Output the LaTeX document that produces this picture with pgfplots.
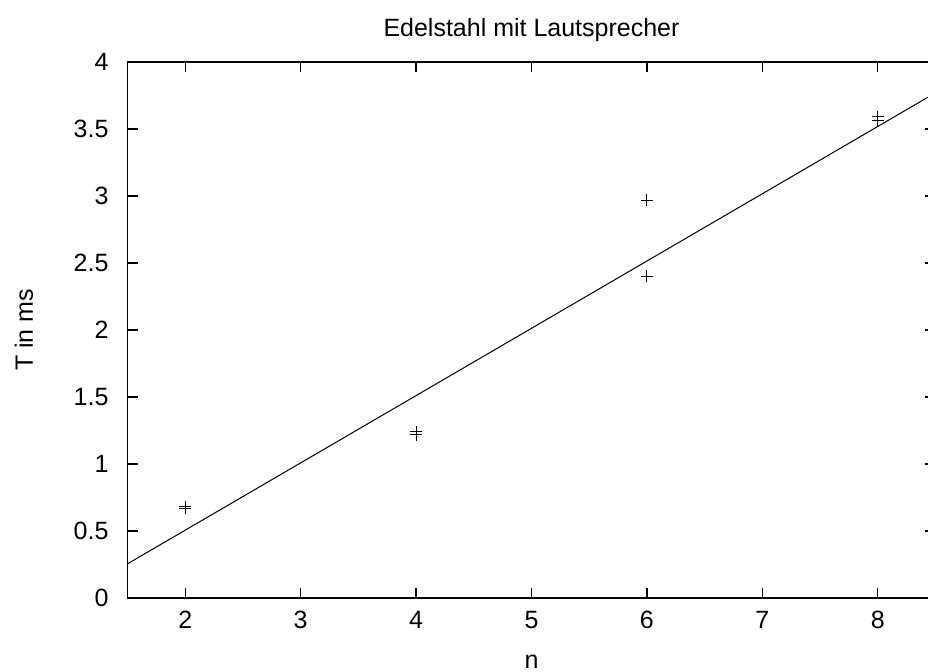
\documentclass[border=0pt]{standalone}
\usepackage{pgfplots}
\pgfplotsset{compat=1.18}
\usepackage{fontspec}
\setmainfont{Liberation Sans}
\begin{document}
\begin{tikzpicture}
\begin{axis}[
  at={(63.75pt,36.5pt)}, anchor=south west,
  scale only axis, width=404pt, height=268pt,
  xmin=1.5, xmax=8.5, ymin=0, ymax=4,
  xtick={2,3,4,5,6,7,8},
  ytick={0,0.5,1,1.5,2,2.5,3,3.5,4},
  yticklabels={0,0.5,1,1.5,2,2.5,3,3.5,4},
  /pgf/number format/assume math mode=true,
  tick align=inside, major tick length=5pt,
  minor tick num=0,
  axis line style={line width=0.8pt},
  every tick/.style={line width=0.7pt, black},
  tick label style={font=\fontsize{12.5}{15}\selectfont},
  xticklabel style={yshift=-3pt},
  yticklabel style={xshift=-6pt},
]
\addplot[only marks, mark=+, mark size=3pt, black, line width=0.5pt] coordinates {
  (2,0.67) (2,0.68) (4,1.22) (4,1.24) (6,2.97) (6,2.40) (8,3.56) (8,3.59)
};
\addplot[black, line width=0.5pt] coordinates {(1.5,0.255) (8.5,3.77)};
\end{axis}
\node[anchor=center, font=\fontsize{12.5}{15}\selectfont] at (265.75pt,320.5pt) {Edelstahl mit Lautsprecher};
\node[anchor=center, font=\fontsize{12.5}{15}\selectfont] at (265.75pt,4.5pt) {n};
\node[anchor=center, rotate=90, font=\fontsize{12.5}{15}\selectfont] at (12pt,170.5pt) {T in ms};
\pgfresetboundingbox
\path[use as bounding box] (0,0) rectangle (464pt,335.5pt);
\end{tikzpicture}
\end{document}
